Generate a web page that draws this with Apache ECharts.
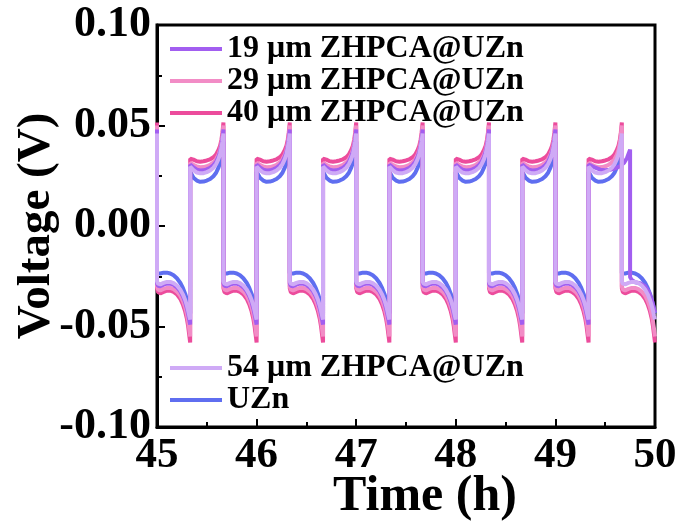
<!DOCTYPE html>
<html>
<head>
<meta charset="utf-8">
<script src="https://cdn.jsdelivr.net/npm/echarts@6/dist/echarts.min.js"></script>
<style>
  html, body { margin: 0; padding: 0; background: #fff; }
  #chart { width: 679px; height: 527px; }
</style>
</head>
<body>
<div id="chart"></div>
<script>
// 切换时刻 (h)：从45 h开始每半个循环 1/3 h
var switchTimes = [45.0, 45.333, 45.667, 46.0, 46.333, 46.667, 47.0, 47.333, 47.667, 48.0, 48.333, 48.667, 49.0, 49.333, 49.667, 50.0]

// 半个循环内的位置（比例）
var stepFrac = [0, 0.03, 0.1, 0.2, 0.3, 0.4, 0.5, 0.6, 0.7, 0.78, 0.85, 0.9, 0.94, 0.97, 1.0]

// 各样品正/负极化电压曲线 (V)
var pos19 = [0.0305, 0.0305, 0.0292, 0.0280, 0.0276, 0.0277, 0.0282, 0.0290, 0.0303, 0.0320, 0.0345, 0.0370, 0.0400, 0.0435, 0.0480]
var neg19 = [-0.0285, -0.0298, -0.0300, -0.0292, -0.0287, -0.0287, -0.0293, -0.0305, -0.0325, -0.0350, -0.0380, -0.0410, -0.0440, -0.0465, -0.0490]
var pos29 = [0.0315, 0.0318, 0.0305, 0.0296, 0.0292, 0.0293, 0.0297, 0.0304, 0.0316, 0.0332, 0.0355, 0.0380, 0.0412, 0.0450, 0.0500]
var neg29 = [-0.0300, -0.0315, -0.0320, -0.0313, -0.0308, -0.0308, -0.0314, -0.0326, -0.0346, -0.0372, -0.0405, -0.0438, -0.0475, -0.0510, -0.0550]
var pos40 = [0.0335, 0.0340, 0.0330, 0.0322, 0.0320, 0.0322, 0.0326, 0.0332, 0.0342, 0.0356, 0.0378, 0.0400, 0.0430, 0.0465, 0.0515]
var neg40 = [-0.0310, -0.0328, -0.0335, -0.0328, -0.0322, -0.0322, -0.0328, -0.0340, -0.0362, -0.0390, -0.0425, -0.0460, -0.0500, -0.0540, -0.0580]
var pos54 = [0.0295, 0.0292, 0.0278, 0.0266, 0.0262, 0.0263, 0.0268, 0.0276, 0.0290, 0.0308, 0.0333, 0.0358, 0.0388, 0.0420, 0.0460]
var neg54 = [-0.0275, -0.0287, -0.0290, -0.0283, -0.0278, -0.0278, -0.0284, -0.0296, -0.0316, -0.0340, -0.0368, -0.0395, -0.0422, -0.0445, -0.0465]
var posUZn = [0.0270, 0.0262, 0.0240, 0.0226, 0.0220, 0.0221, 0.0226, 0.0234, 0.0248, 0.0265, 0.0290, 0.0315, 0.0345, 0.0380, 0.0420]
var negUZn = [-0.0235, -0.0238, -0.0236, -0.0232, -0.0232, -0.0236, -0.0245, -0.0260, -0.0282, -0.0308, -0.0338, -0.0365, -0.0392, -0.0415, -0.0435]

// 19 μm 最后一段（切换时间延后）
var tail19 = [[49.333, 0.0305], [49.36, 0.0300], [49.4, 0.0290], [49.45, 0.0280], [49.5, 0.0277], [49.55, 0.0280], [49.6, 0.0287], [49.65, 0.0298], [49.69, 0.0315], [49.72, 0.0340], [49.75, 0.0380],
    [49.75, -0.0255], [49.77, -0.0270], [49.8, -0.0280], [49.85, -0.0285], [49.9, -0.0300], [49.94, -0.0330], [49.97, -0.0370], [50.0, -0.0430]]

var names = ['19 μm ZHPCA@UZn', '29 μm ZHPCA@UZn', '40 μm ZHPCA@UZn', '54 μm ZHPCA@UZn', 'UZn']
var colors = ['#a25ef0', '#f28cc6', '#ec4c9c', '#cfaaf6', '#5f6ef0']

// 把半循环曲线拼成完整的数据
function buildData(pos, neg, times) {
    var data = [[times[0], pos[pos.length - 1]]]
    for (var i = 0; i < times.length - 1; i++) {
        var t0 = times[i], t1 = times[i + 1]
        var prof = (i % 2 == 0) ? neg : pos
        for (var k = 0; k < stepFrac.length; k++) {
            data.push([t0 + stepFrac[k] * (t1 - t0), prof[k]])
        }
    }
    return data
}

var data19 = buildData(pos19, neg19, switchTimes.slice(0, 14)).concat(tail19)
var data29 = buildData(pos29, neg29, switchTimes)
var data40 = buildData(pos40, neg40, switchTimes)
var data54 = buildData(pos54, neg54, switchTimes)
var dataUZn = buildData(posUZn, negUZn, switchTimes)

var font = "'Liberation Serif', 'Times New Roman', serif"

function lineSeries(idx, data, z) {
    return {
        name: names[idx],
        type: 'line',
        data: data,
        showSymbol: false,
        z: z,
        lineStyle: { color: colors[idx], width: 4 },
        itemStyle: { color: colors[idx] },
        animation: false
    }
}

var legendText = { fontFamily: font, fontWeight: 'bold', fontSize: 32, color: '#000', lineHeight: 32 }

var chart = echarts.init(document.getElementById('chart'))

var option = {
    backgroundColor: '#fff',
    animation: false,
    grid: {
        left: 157, right: 24, top: 25, bottom: 100,
        show: true, borderColor: '#000', borderWidth: 3,
        outerBoundsMode: 'none'
    },
    legend: [{
        data: names.slice(0, 3),
        orient: 'vertical',
        left: 165, top: 28,
        itemGap: 0,
        icon: 'rect',
        itemWidth: 52, itemHeight: 4,
        textStyle: legendText
    }, {
        data: names.slice(3),
        orient: 'vertical',
        left: 165, top: 347,
        itemGap: 0,
        icon: 'rect',
        itemWidth: 52, itemHeight: 4,
        textStyle: legendText
    }],
    xAxis: {
        type: 'value',
        min: 45, max: 50, interval: 1,
        name: 'Time (h)',
        nameLocation: 'middle',
        nameGap: 45,
        nameMoveOverlap: false,
        nameTextStyle: { fontFamily: font, fontWeight: 'bold', fontSize: 50, color: '#000', padding: [0, 0, 0, 38] },
        axisLine: { onZero: false, lineStyle: { color: '#000', width: 3 } },
        axisTick: { inside: true, length: 8, lineStyle: { width: 2, color: '#000' } },
        minorTick: { show: true, splitNumber: 2, length: 5, lineStyle: { width: 2, color: '#000' } },
        splitLine: { show: false },
        axisLabel: { fontFamily: font, fontWeight: 'bold', fontSize: 43, color: '#000', margin: 7 }
    },
    yAxis: {
        type: 'value',
        min: -0.1, max: 0.1, interval: 0.05,
        name: 'Voltage (V)',
        nameLocation: 'middle',
        nameGap: 97,
        nameMoveOverlap: false,
        nameTextStyle: { fontFamily: font, fontWeight: 'bold', fontSize: 47, color: '#000' },
        axisLine: { onZero: false, lineStyle: { color: '#000', width: 3 } },
        axisTick: { inside: true, length: 8, lineStyle: { width: 2, color: '#000' } },
        minorTick: { show: true, splitNumber: 2, length: 5, lineStyle: { width: 2, color: '#000' } },
        splitLine: { show: false },
        axisLabel: {
            fontFamily: font, fontWeight: 'bold', fontSize: 44, color: '#000', margin: 6,
            formatter: function (v) { return v.toFixed(2) }
        }
    },
    series: [
        lineSeries(4, dataUZn, 2),
        lineSeries(2, data40, 3),
        lineSeries(1, data29, 4),
        lineSeries(0, data19, 5),
        lineSeries(3, data54, 6)
    ]
}

chart.setOption(option)
</script>
</body>
</html>
